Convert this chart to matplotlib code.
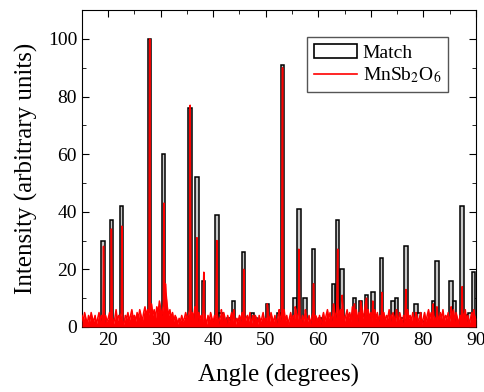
import matplotlib
matplotlib.use('Agg')
import matplotlib.pyplot as plt
from matplotlib.ticker import MultipleLocator
from matplotlib.patches import Patch
from matplotlib.lines import Line2D

# reference pattern (Match) bars
match_angles = [19.0, 20.6, 22.5, 27.9, 30.5, 35.6, 36.9, 38.2, 40.7, 41.5, 43.0, 43.9,
                45.8, 47.5, 48.1, 50.3, 52.5, 53.2, 55.6, 56.3, 57.5, 59.1, 60.4, 62.9,
                63.7, 64.5, 66.9, 68.0, 69.2, 70.4, 72.1, 74.2, 74.9, 76.0, 76.7, 78.6,
                79.2, 81.9, 82.6, 85.3, 86.0, 87.4, 88.4, 88.9, 89.6]
match_heights = [30, 37, 42, 100, 60, 76, 52, 16, 39, 5, 3, 9,
                 26, 5, 3, 8, 5, 91, 10, 41, 10, 27, 3, 15,
                 37, 20, 10, 9, 11, 12, 24, 9, 10, 3, 28, 8,
                 5, 9, 23, 16, 9, 42, 4, 5, 19]

# measured pattern: background read every 0.25 degrees from 15 to 90
bg_start = 15.0
bg_step = 0.25
bg_values = [
    4, 2, 5, 3, 1, 4, 2, 5, 3, 2, 4, 1, 3, 5, 2, 4, 3, 1, 4, 2,
    3, 5, 2, 4, 1, 3, 6, 2, 4, 3, 5, 2, 1, 4, 3, 5, 2, 4, 6, 3,
    4, 2, 5, 3, 6, 4, 2, 5, 7, 4, 6, 3, 5, 8, 4, 6, 3, 7, 5, 9,
    6, 4, 8, 5, 12, 7, 4, 6, 3, 5, 2, 4, 3, 1, 3, 2, 4, 2, 3, 5,
    3, 4, 6, 2, 5, 3, 7, 4, 2, 5, 3, 4, 2, 6, 3, 1, 4, 2, 5, 3,
    2, 4, 3, 5, 1, 3, 4, 2, 5, 3, 1, 4, 2, 3, 5, 2, 4, 1, 3, 2,
    4, 2, 5, 3, 1, 3, 4, 2, 5, 1, 3, 2, 4, 3, 1, 4, 2, 3, 5, 2,
    3, 1, 4, 2, 5, 3, 2, 4, 1, 3, 5, 2, 4, 3, 6, 2, 4, 1, 3, 5,
    2, 4, 3, 6, 2, 5, 3, 1, 4, 2, 5, 3, 2, 4, 1, 3, 5, 2, 4, 3,
    2, 4, 1, 3, 5, 2, 4, 6, 3, 5, 2, 4, 7, 3, 5, 8, 4, 6, 3, 5,
    2, 4, 6, 3, 5, 2, 7, 4, 3, 6, 2, 5, 4, 7, 3, 5, 8, 4, 6, 3,
    5, 2, 4, 6, 3, 5, 2, 4, 1, 3, 5, 2, 4, 3, 6, 2, 4, 5, 3, 2,
    4, 2, 5, 3, 1, 4, 2, 5, 6, 3, 4, 2, 5, 3, 1, 4, 2, 3, 5, 1,
    3, 5, 2, 4, 6, 3, 5, 2, 4, 3, 1, 4, 2, 5, 3, 6, 2, 4, 3, 5,
    2, 4, 3, 6, 2, 5, 3, 1, 4, 2, 5, 3, 6, 2, 4, 1, 3, 5, 2, 4,
    3,
]

# measured peak tops
peak_angles = [19.1, 20.6, 22.6, 27.9, 30.6, 30.9, 35.6, 36.9, 38.2, 40.7, 41.55, 43.9,
               45.8, 47.55, 50.3, 52.55, 53.2, 55.6, 56.3, 57.55, 59.1, 62.9, 63.7, 64.55,
               66.9, 68.05, 69.2, 70.4, 72.1, 74.9, 76.7, 78.6, 81.9, 82.6, 85.3, 87.4, 89.6]
peak_heights = [28, 34, 35, 100, 43, 15, 77, 31, 19, 30, 6, 6,
                20, 4, 8, 6, 90, 7, 27, 6, 15, 8, 27, 11,
                8, 9, 10, 9, 12, 6, 13, 5, 8, 7, 7, 14, 6]

bg_angles = [bg_start + i * bg_step for i in range(len(bg_values))]
pts = sorted(zip(bg_angles + peak_angles, bg_values + peak_heights))
xs = [p[0] for p in pts]
ys = [p[1] for p in pts]

plt.rcParams['font.family'] = ['Liberation Serif', 'DejaVu Serif']
plt.rcParams['mathtext.fontset'] = 'stix'

fig = plt.figure(figsize=(4.85, 3.92), dpi=100)
ax = fig.add_axes([0.169, 0.166, 0.812, 0.808])

ax.bar(match_angles, match_heights, width=0.65, facecolor='#c8c8c8',
       edgecolor='black', linewidth=1.1, zorder=2)
ax.fill_between(xs, 0, ys, color='red', linewidth=0, zorder=3)
ax.plot(xs, ys, color='red', linewidth=1.1, zorder=3)

ax.set_xlim(15, 90)
ax.set_ylim(0, 110)
ax.xaxis.set_major_locator(MultipleLocator(10))
ax.xaxis.set_minor_locator(MultipleLocator(5))
ax.yaxis.set_major_locator(MultipleLocator(20))
ax.yaxis.set_minor_locator(MultipleLocator(10))
ax.tick_params(which='both', direction='in', top=True, right=True, labelsize=14)
ax.tick_params(which='major', length=5)
ax.tick_params(which='minor', length=3)
ax.set_xlabel('Angle (degrees)', fontsize=18, labelpad=11)
ax.set_ylabel('Intensity (arbitrary units)', fontsize=18, labelpad=7)

handles = [Patch(facecolor='white', edgecolor='black', linewidth=1.2),
           Line2D([0], [0], color='red', linewidth=1.2)]
ax.legend(handles, ['Match', 'MnSb$_2$O$_6$'], loc='upper right',
          bbox_to_anchor=(0.929, 0.915), borderaxespad=0, fontsize=14,
          fancybox=False, edgecolor='#555555', framealpha=1, handlelength=2.2,
          handletextpad=0.3, borderpad=0.35, labelspacing=0.2)

fig.savefig('out.png', dpi=100)
